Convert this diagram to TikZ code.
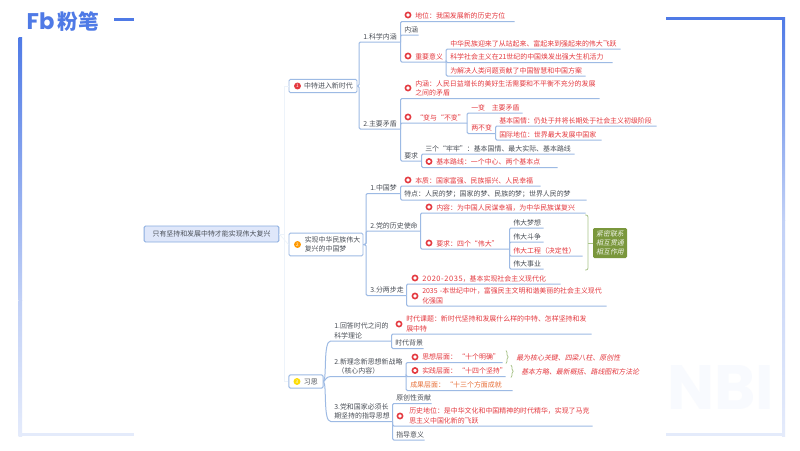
\documentclass[tikz,border=0pt]{standalone}
\usepackage{fontspec}
\setmainfont{Noto Sans CJK SC}
\newfontfamily\logofont[BoldFont={Poppins Bold}]{Poppins}
\newfontfamily\slantfont[FakeSlant=0.2]{Noto Sans CJK SC}
\newfontfamily\spacedfont[LetterSpace=8]{Noto Sans CJK SC}
\usetikzlibrary{decorations.pathreplacing}
\definecolor{tcol}{HTML}{4A4F57}
\definecolor{rcol}{HTML}{E4393F}
\definecolor{ocol}{HTML}{E8713A}
\definecolor{lcol}{HTML}{9DBAE4}
\definecolor{bcol}{HTML}{4F7AE6}
\definecolor{gcol}{HTML}{7A973C}
\definecolor{brcol}{HTML}{A9C48A}
\tikzset{
  x=0.75pt,y=-0.75pt,
  conn/.style={draw=lcol,line width=0.75pt,rounded corners=1pt},
  faint/.style={draw=lcol!18,line width=0.5pt},
  topicbox/.style={anchor=south west,inner xsep=0pt,inner ysep=1.4pt,font=\fontsize{5.2pt}{7pt}\selectfont,text=tcol},
  red/.style={text=rcol},
  org/.style={text=ocol},
  mainbox/.style={draw=lcol,fill=white,line width=0.7pt,rounded corners=1pt,inner sep=0pt,font=\fontsize{5.2pt}{7pt}\selectfont,text=tcol,align=left},
  markdot/.style={circle,fill=#1,inner sep=0pt,minimum size=5.2pt},
  ringdot/.style={circle,draw=rcol,fill=white,line width=1.2pt,inner sep=0pt,minimum size=3.9pt},
  brc/.style={draw=brcol,line width=0.6pt,decorate,decoration={brace,amplitude=1.6pt}},
  note/.style={font=\slantfont\fontsize{5.2pt}{7pt}\selectfont,text=rcol,inner sep=0pt,anchor=west},
}
% name, x start, text x, x end, underline y, style, text
\newcommand\Tp[7]{%
  \pgfmathsetmacro\boxw{(#4-#2)*0.75}%
  \pgfmathsetmacro\boxl{(#3-#2)*0.75}%
  \node[topicbox,#6,text width=\boxw pt] (#1) at (#2,#5) {\leftskip=\boxl pt\relax\rightskip=0pt plus 1fil\relax #7\par};}
\newcommand\Rg[3]{\node[ringdot] (#1) at (#2,#3) {};}
\begin{document}
\begin{tikzpicture}
\useasboundingbox (0,0) rectangle (800,450);
\fill[white] (0,0) rectangle (800,450);
% frame
\shade[top color=bcol,bottom color=bcol!35] (18.5,37) rectangle (22,300);
\shade[top color=bcol!35,bottom color=bcol!15] (18.5,300) rectangle (22,436);
\fill[bcol!15] (18.5,433) rectangle (134,436);
\fill[bcol] (114,17.5) rectangle (134,20.5);
\fill[bcol] (666,17) rectangle (785,20);
\shade[top color=bcol,bottom color=bcol!35] (782,17) rectangle (785,220);
\shade[top color=bcol!35,bottom color=bcol!15] (782,220) rectangle (785,436);
\fill[bcol!15] (666,433) rectangle (785,436);
% watermark and logo
\node[font=\logofont\bfseries\fontsize{47pt}{47pt}\selectfont,text=bcol!4,inner sep=0pt] (wm) at (721,387) {NBI};
\node[font=\logofont\bfseries\fontsize{17pt}{17pt}\selectfont,text=bcol,inner sep=0pt] (lg) at (40.5,21.5) {Fb};
\node[font=\bfseries\fontsize{15.5pt}{16pt}\selectfont,text=bcol,inner sep=0pt] (lgt) at (78,21.5) {粉笔};
% main nodes
\node[mainbox,draw=lcol!120,fill=bcol!18,minimum width=101pt,minimum height=12pt,align=center] (root) at (211.5,234) {只有坚持和发展中特才能实现伟大复兴};
\node[mainbox,minimum width=51pt,minimum height=10pt] (n1) at (323,86) {\hspace*{11.2pt}中特进入新时代\hspace*{3pt}};
\node[mainbox,minimum width=55.5pt,minimum height=17pt] (n2) at (326,244.5) {\hspace*{11.2pt}\begin{minipage}{43pt}\fontsize{5.2pt}{7pt}\selectfont 实现中华民族伟大\\复兴的中国梦\end{minipage}};
\node[mainbox,minimum width=25.5pt,minimum height=10pt] (n3) at (306,381.5) {\hspace*{11.2pt}习思\hspace*{4pt}};
\node[markdot=rcol,font=\fontsize{3.5pt}{4pt}\selectfont,text=white] (d1) at (297.5,86) {1};
\node[markdot=orange!80!yellow,font=\fontsize{3.5pt}{4pt}\selectfont,text=white] (d2) at (297.5,244.5) {2};
\node[markdot=yellow!80!orange,font=\fontsize{3.5pt}{4pt}\selectfont,text=white] (d3) at (297,381.5) {3};
\draw[faint] (root.east) -- (n2.west);
\draw[faint] (root.east) -| (284,86) -- (n1.west);
\draw[faint] (root.east) -| (284,381.5) -- (n3.west);
% branch 1
\Tp{a1}{359}{363}{400}{42}{}{1.科学内涵}
\Tp{a2}{359}{363}{400}{129}{}{2.主要矛盾}
\Tp{a11}{400}{415}{514}{21.5}{red}{地位：我国发展新的历史方位}
\Tp{a12}{400}{404}{418}{35}{}{内涵}
\Tp{a13}{400}{415}{445.5}{62}{red}{重要意义}
\Tp{a131}{445.5}{450}{620}{49}{red}{中华民族迎来了从站起来、富起来到强起来的伟大飞跃}
\Tp{a132}{445.5}{450}{612}{62.5}{red}{科学社会主义在21世纪的中国焕发出强大生机活力}
\Tp{a133}{445.5}{450}{585}{76}{red}{为解决人类问题贡献了中国智慧和中国方案}
\Tp{a21}{400}{415}{599}{98.5}{red}{内涵：人民日益增长的美好生活需要和不平衡不充分的发展\\之间的矛盾}
\Tp{a22}{400}{416}{466.5}{123}{red}{“变与“不变”}
\Tp{a221}{466.5}{471}{522}{113}{red}{一变\kern5pt 主要矛盾}
\Tp{a222}{466.5}{471}{495}{133.5}{red}{两不变}
\Tp{a2221}{495}{499}{656}{126}{red}{基本国情：仍处于并将长期处于社会主义初级阶段}
\Tp{a2222}{495}{499}{601}{140}{red}{国际地位：世界最大发展中国家}
\Tp{a23}{400}{404}{421}{161}{}{要求}
\Tp{a231}{421}{425}{574}{154}{}{三个“牢牢”：基本国情、最大实际、基本路线}
\Tp{a232}{421}{436}{557}{167.5}{red}{基本路线：一个中心、两个基本点}
\Rg{r11}{408}{15}\Rg{r13}{408}{56}\Rg{r21}{408}{88}\Rg{r22}{408}{117}\Rg{r232}{429}{161.5}
\draw[conn] (n1.east) -- (n1.east -| a1.south west) |- (a1.south east);
\draw[conn] (n1.east) -- (n1.east -| a2.south west) |- (a2.south east);
\foreach \c in {a11,a12,a13} \draw[conn] (a1.south east) |- (\c.south east);
\foreach \c in {a131,a132,a133} \draw[conn] (a13.south east) |- (\c.south east);
\foreach \c in {a21,a22,a23} \draw[conn] (a2.south east) |- (\c.south east);
\foreach \c in {a221,a222} \draw[conn] (a22.south east) |- (\c.south east);
\foreach \c in {a2221,a2222} \draw[conn] (a222.south east) |- (\c.south east);
\foreach \c in {a231,a232} \draw[conn] (a23.south east) |- (\c.south east);
% branch 2
\Tp{b1}{366}{370}{400}{193.5}{}{1.中国梦}
\Tp{b2}{366}{370}{420}{231}{}{2.党的历史使命}
\Tp{b3}{366}{370}{406}{295.5}{}{3.分两步走}
\Tp{b11}{400}{415}{540}{186}{red}{本质：国家富强、民族振兴、人民幸福}
\Tp{b12}{400}{404}{586}{200}{}{特点：人民的梦；国家的梦、民族的梦；世界人民的梦}
\Tp{b21}{420}{436}{585}{213}{red}{内容：为中国人民谋幸福，为中华民族谋复兴}
\Tp{b22}{420}{436}{509}{249}{red}{要求：四个“伟大”}
\Tp{b221}{509}{513}{543}{228}{}{伟大梦想}
\Tp{b222}{509}{513}{543}{242}{}{伟大斗争}
\Tp{b223}{509}{513}{582}{256}{red}{伟大工程（决定性）}
\Tp{b224}{509}{513}{543}{269}{}{伟大事业}
\Tp{b31}{406}{422}{560}{284}{red}{{\spacedfont\fontsize{5.6pt}{7pt}\selectfont 2020-2035}，基本实现社会主义现代化}
\Tp{b32}{406}{422}{606}{306}{red}{2035 -本世纪中叶，富强民主文明和谐美丽的社会主义现代\\化强国}
\Rg{r211}{408}{180}\Rg{r221}{429}{207}\Rg{r222}{429}{243}\Rg{r231}{415}{278}\Rg{r232b}{415}{296}
\foreach \c in {b1,b2,b3} \draw[conn] (n2.east) -- (n2.east -| \c.south west) |- (\c.south east);
\foreach \c in {b11,b12} \draw[conn] (b1.south east) |- (\c.south east);
\foreach \c in {b21,b22} \draw[conn] (b2.south east) |- (\c.south east);
\foreach \c in {b221,b222,b223,b224} \draw[conn] (b22.south east) |- (\c.south east);
\foreach \c in {b31,b32} \draw[conn] (b3.south east) |- (\c.south east);
\coordinate (bt) at (585,215); \coordinate (bb) at (585,270);
\draw[draw=brcol,line width=0.6pt,rounded corners=1.5pt] (bt) -- (588,215) -- (588,270) -- (bb);
\node[fill=gcol,rounded corners=1pt,inner sep=0pt,minimum width=25.5pt,minimum height=22.5pt,align=center,font=\slantfont\fontsize{5.2pt}{7pt}\selectfont,text=white!88!gcol] (gb) at (610,243) {紧密联系\\相互贯通\\相互作用};
\draw[draw=brcol,line width=0.6pt] (588,243) -- (gb.west);
% branch 3
\Tp{c1}{332}{334}{391}{341}{}{1.回答时代之问的\\科学理论}
\Tp{c2}{332}{334}{405.5}{376.5}{}{2.新理念新思想新战略\\\hspace*{2.5pt}（核心内容）}
\Tp{c3}{332}{334}{392}{421.5}{}{3.党和国家必须长\\期坚持的指导思想}
\Tp{c11}{391}{406}{591}{334}{red}{时代课题：新时代坚持和发展什么样的中特、怎样坚持和发\\展中特}
\Tp{c12}{391}{395}{423}{348.5}{}{时代背景}
\Tp{c21}{405.5}{422}{502}{362.5}{red}{思想层面：\kern1pt “十个明确”}
\Tp{c22}{405.5}{422}{505}{376.5}{red}{实践层面：\kern1pt “十四个坚持”}
\Tp{c23}{405.5}{410}{512}{390.5}{org}{成果层面：\kern1pt “十三个方面成就}
\Tp{c31}{392}{396}{431}{403.5}{}{原创性贡献}
\Tp{c32}{392}{409}{592}{426}{red}{历史地位：是中华文化和中国精神的时代精华，实现了马克\\思主义中国化新的飞跃}
\Tp{c33}{392}{396}{424}{440}{}{指导意义}
\Rg{r31}{399}{324}\Rg{r32}{415}{357}\Rg{r33}{415}{370.5}\Rg{r34}{400}{416}
\draw[conn] (n3.east) .. controls (327,378) and (323,341) .. (c1.south west) -- (c1.south east);
\draw[conn] (n3.east) .. controls (325,381) and (326,376.5) .. (c2.south west) -- (c2.south east);
\draw[conn] (n3.east) .. controls (327,385) and (323,421.5) .. (c3.south west) -- (c3.south east);
\foreach \c in {c11,c12} \draw[conn] (c1.south east) |- (\c.south east);
\foreach \c in {c21,c22,c23} \draw[conn] (c2.south east) |- (\c.south east);
\foreach \c in {c31,c32,c33} \draw[conn] (c3.south east) |- (\c.south east);
\coordinate (b1a) at (506,350.5); \coordinate (b1b) at (506,363.5);
\coordinate (b2a) at (511,365); \coordinate (b2b) at (511,377.5);
\draw[brc] (b1a) -- (b1b);
\draw[brc] (b2a) -- (b2b);
\node[note] (nt1) at (516,358) {最为核心关键、四梁八柱、原创性};
\node[note] (nt2) at (521,372) {基本方略、最新概括、路线图和方法论};
\end{tikzpicture}
\end{document}
